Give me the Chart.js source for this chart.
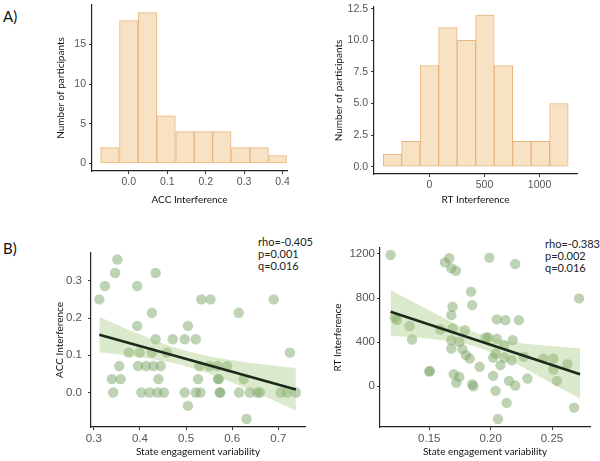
<!DOCTYPE html>
<html>
<head>
<meta charset="utf-8">
<script src="https://cdn.jsdelivr.net/npm/chart.js@4.4.1/dist/chart.umd.min.js"></script>
<style>
  body { margin: 0; background: #fff; width: 600px; height: 461px; position: relative; overflow: hidden; font-family: 'Lato', sans-serif; }
  canvas { position: absolute; }
  .lbl { position: absolute; font-size: 15px; color: #111; }
  .stat { position: absolute; font-size: 11px; line-height: 12px; color: #222; }
</style>
</head>
<body>
<div class="lbl" style="left:3px; top:7px;">A)</div>
<div class="lbl" style="left:3px; top:239px;">B)</div>
<div class="stat" style="left:258px; top:236px;">rho=-0.405<br>p=0.001<br>q=0.016</div>
<div class="stat" style="left:545px; top:238px;">rho=-0.383<br>p=0.002<br>q=0.016</div>

<canvas id="accHist"></canvas>
<canvas id="rtHist"></canvas>
<canvas id="accScatter"></canvas>
<canvas id="rtScatter"></canvas>

<script>
// histogram data (bin centres + counts)
const accBins = [-0.049, 0, 0.049, 0.097, 0.146, 0.194, 0.242, 0.291, 0.339, 0.388];
const accCounts = [2, 18, 19, 6, 4, 4, 4, 2, 2, 1];
const rtBins = [-336, -168, 0, 168, 336, 504, 672, 840, 1008, 1176];
const rtCounts = [1, 2, 8, 11, 10, 12, 8, 2, 2, 5];

// scatter: state engagement variability vs ACC interference
const accVarX = [0.312, 0.324, 0.351, 0.346, 0.394, 0.434, 0.426, 0.394, 0.434, 0.471,
  0.497, 0.521, 0.504, 0.533, 0.553, 0.614, 0.690, 0.725, 0.376, 0.399,
  0.426, 0.458, 0.355, 0.396, 0.413, 0.429, 0.445, 0.339, 0.358, 0.440,
  0.342, 0.403, 0.421, 0.438, 0.452, 0.497, 0.521, 0.531, 0.504, 0.526,
  0.529, 0.551, 0.568, 0.589, 0.571, 0.574, 0.569, 0.615, 0.625, 0.638,
  0.654, 0.660, 0.705, 0.719, 0.738, 0.631, 0.573];
const accIntY = [0.250, 0.286, 0.357, 0.321, 0.286, 0.321, 0.214, 0.179, 0.143, 0.143,
  0.143, 0.143, 0.179, 0.250, 0.250, 0.214, 0.250, 0.107, 0.107, 0.107,
  0.107, 0.107, 0.071, 0.071, 0.071, 0.071, 0.071, 0.036, 0.036, 0.036,
  0, 0, 0, 0, 0, 0, 0, 0, -0.036, 0.036,
  0.071, 0.071, 0.071, 0.071, 0.036, 0, 0.036, 0, 0.036, 0,
  0, 0, 0, 0, 0, -0.071, 0];
const accFitX = [0.312, 0.738];
const accFitY = [0.155, 0.008];
const accBandX = [0.312, 0.393, 0.493, 0.593, 0.693, 0.738];
const accBandUp = [0.203, 0.160, 0.114, 0.088, 0.072, 0.066];
const accBandLo = [0.108, 0.096, 0.073, 0.030, -0.023, -0.048];

// scatter: state engagement variability vs RT interference
const rtVarX = [0.1185, 0.1663, 0.1628, 0.168, 0.1717, 0.199, 0.220, 0.184, 0.185, 0.169,
  0.168, 0.272, 0.205, 0.212, 0.223, 0.122, 0.1236, 0.134, 0.136, 0.169,
  0.179, 0.159, 0.168, 0.1745, 0.168, 0.177, 0.180, 0.183, 0.196, 0.198,
  0.205, 0.211, 0.218, 0.202, 0.204, 0.211, 0.208, 0.217, 0.227, 0.191,
  0.202, 0.215, 0.220, 0.230, 0.170, 0.1745, 0.172, 0.185, 0.186, 0.150,
  0.1505, 0.204, 0.213, 0.206, 0.268, 0.251, 0.251, 0.254, 0.2625, 0.243];
const rtIntY = [1191, 1161, 1124, 1070, 1048, 1167, 1109, 858, 736, 721,
  645, 797, 606, 600, 600, 624, 600, 545, 424, 524,
  509, 515, 418, 403, 342, 336, 282, 251, 442, 442,
  430, 373, 418, 260, 297, 260, 191, 236, 267, 176,
  94, 48, 6, 70, 109, 85, 30, 18, 0, 133,
  139, -42, -151, -297, -194, 251, 151, 48, 200, 252];
const rtFitX = [0.1185, 0.2728];
const rtFitY = [676, 109];
const rtBandX = [0.1185, 0.15, 0.18, 0.21, 0.24, 0.2728];
const rtBandUp = [873, 689, 519, 417, 373, 342];
const rtBandLo = [458, 431, 382, 263, 87, -112];

// tick labels
const accHistXTicks = [0, 0.1, 0.2, 0.3, 0.4];
const accHistYTicks = [0, 5, 10, 15];
const rtHistXTicks = [0, 500, 1000];
const rtHistYTicks = [0, 2.5, 5, 7.5, 10, 12.5];
const accScXTicks = [0.3, 0.4, 0.5, 0.6, 0.7];
const accScYTicks = [0, 0.1, 0.2, 0.3];
const rtScXTicks = [0.15, 0.20, 0.25];
const rtScYTicks = [0, 400, 800, 1200];

const barFill = '#f8e2c4';
const barEdge = '#e9b47e';
const dotColor = 'rgba(126, 166, 106, 0.5)';
const bandColor = 'rgba(160, 196, 122, 0.38)';
const fitColor = '#1b2a1b';

Chart.defaults.font.family = "'Liberation Sans', Arial, sans-serif";
Chart.defaults.animation = false;

// put canvas so chart area lands on the plot box of the picture
function frame(canvas, box) {
  const left = Math.round(box.yTitle - 6);
  const top = Math.round(box.t - 10);
  const w = Math.round(box.r + 15 - left);
  const h = Math.round(box.xTitle + 6 - top);
  canvas.style.left = left + 'px';
  canvas.style.top = top + 'px';
  canvas.width = w;
  canvas.height = h;
  return { wy: box.l - left, hx: top + h - box.b };
}

function axes(fit, o) {
  const title = (text) => ({ display: true, text: text, color: '#111', padding: 0,
    font: { family: 'Lato', size: 10, lineHeight: 1.2 } });
  const common = {
    grid: { display: true, drawOnChartArea: false, drawTicks: true, tickLength: o.tick, color: '#333' },
    border: { display: true, color: '#222', width: 1.2 }
  };
  const tickFont = { size: o.fs };
  return {
    x: Object.assign({}, common, {
      type: 'linear', min: o.xMin, max: o.xMax, offset: false,
      grid: Object.assign({}, common.grid, { offset: false }),
      title: title(o.xTitle),
      afterBuildTicks: s => { s.ticks = o.xTicks.map(v => ({ value: v })); },
      afterFit: s => { s.height = fit.hx; },
      ticks: { color: '#555', padding: 2, maxRotation: 0, font: tickFont, callback: o.xFmt }
    }),
    y: Object.assign({}, common, {
      type: 'linear', min: o.yMin, max: o.yMax,
      title: title(o.yTitle),
      afterBuildTicks: s => { s.ticks = o.yTicks.map(v => ({ value: v })); },
      afterFit: s => { s.width = fit.wy; },
      ticks: { color: '#555', padding: o.pad, font: tickFont, callback: o.yFmt }
    })
  };
}

const baseOpts = {
  responsive: false,
  layout: { padding: { top: 10, right: 15, left: 0, bottom: 0 } },
  plugins: { legend: { display: false }, tooltip: { enabled: false } }
};

function histogram(id, box, bins, counts, o) {
  const canvas = document.getElementById(id);
  const fit = frame(canvas, box);
  new Chart(canvas, {
    type: 'bar',
    data: {
      datasets: [{
        data: bins.map((x, i) => ({ x: x, y: counts[i] })),
        backgroundColor: barFill,
        borderColor: barEdge,
        borderWidth: 1,
        borderSkipped: false,
        barPercentage: 1,
        categoryPercentage: 1
      }]
    },
    options: Object.assign({}, baseOpts, { scales: axes(fit, o) })
  });
}

function scatterFit(id, box, xs, ys, fx, fy, bx, bUp, bLo, o) {
  const canvas = document.getElementById(id);
  const fit = frame(canvas, box);
  new Chart(canvas, {
    type: 'scatter',
    data: {
      datasets: [
        { data: fx.map((x, i) => ({ x: x, y: fy[i] })), showLine: true, borderColor: fitColor,
          borderWidth: 2.6, pointRadius: 0, order: 0 },
        { data: bx.map((x, i) => ({ x: x, y: bUp[i] })), showLine: true, borderColor: 'transparent',
          borderWidth: 0, pointRadius: 0, fill: '+1', backgroundColor: bandColor,
          cubicInterpolationMode: 'monotone', order: 1 },
        { data: bx.map((x, i) => ({ x: x, y: bLo[i] })), showLine: true, borderColor: 'transparent',
          borderWidth: 0, pointRadius: 0, fill: false, cubicInterpolationMode: 'monotone', order: 1 },
        { data: xs.map((x, i) => ({ x: x, y: ys[i] })), pointRadius: 5.2, borderWidth: 0,
          backgroundColor: dotColor, order: 2 }
      ]
    },
    options: Object.assign({}, baseOpts, { scales: axes(fit, o) })
  });
}

const f1 = v => v.toFixed(1);
const f2 = v => v.toFixed(2);
const f0 = v => String(v);

histogram('accHist', { l: 92, r: 287, t: 5, b: 171, yTitle: 61, xTitle: 200 }, accBins, accCounts, {
  xMin: -0.0956, xMax: 0.4114, yMin: -0.95, yMax: 19.95, xTicks: accHistXTicks, yTicks: accHistYTicks,
  xTitle: 'ACC Interference', yTitle: 'Number of participants', fs: 10.5, tick: 3, pad: 3, xFmt: f1, yFmt: f0
});

histogram('rtHist', { l: 374, r: 577, t: 7, b: 174, yTitle: 339, xTitle: 200 }, rtBins, rtCounts, {
  xMin: -503, xMax: 1340, yMin: -0.58, yMax: 12.63, xTicks: rtHistXTicks, yTicks: rtHistYTicks,
  xTitle: 'RT Interference', yTitle: 'Number of participants', fs: 10.5, tick: 3, pad: 3, xFmt: f0, yFmt: f1
});

scatterFit('accScatter', { l: 91, r: 305, t: 250, b: 427, yTitle: 60, xTitle: 452 },
  accVarX, accIntY, accFitX, accFitY, accBandX, accBandUp, accBandLo, {
  xMin: 0.2939, xMax: 0.7578, yMin: -0.0926, yMax: 0.3749, xTicks: accScXTicks, yTicks: accScYTicks,
  xTitle: 'State engagement variability', yTitle: 'ACC Interference', fs: 11.5, tick: 3, pad: 6, xFmt: f1, yFmt: f1
});

scatterFit('rtScatter', { l: 380, r: 590, t: 248, b: 427, yTitle: 338, xTitle: 452 },
  rtVarX, rtIntY, rtFitX, rtFitY, rtBandX, rtBandUp, rtBandLo, {
  xMin: 0.1099, xMax: 0.2809, yMin: -370, yMax: 1254, xTicks: rtScXTicks, yTicks: rtScYTicks,
  xTitle: 'State engagement variability', yTitle: 'RT Interference', fs: 11.5, tick: 3, pad: 2, xFmt: f2, yFmt: f0
});
</script>
</body>
</html>
